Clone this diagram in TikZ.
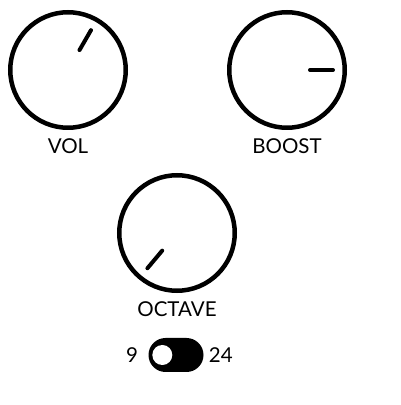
\documentclass[tikz,border=0pt]{standalone}
\usepackage{fontspec}
\setmainfont{Lato}
\usetikzlibrary{positioning,calc}
\def\knob#1#2#3#4{
	\node[knob] (#1) at (#2) {};
	\draw[pointer] ($(#1)+(#3:23)$) -- ($(#1)+(#3:46)$);
	\node[knoblabel,below=8pt of #1] (#1label) {#4};
}

\begin{document}
\begin{tikzpicture}[x=1pt,y=1pt,
	knob/.style={circle,draw,line width=4.5pt,minimum size=115.5pt,inner sep=0pt},
	pointer/.style={line width=4pt,line cap=round},
	knoblabel/.style={font=\fontsize{20.5}{24}\selectfont,inner sep=0pt},
	toggle/.style={rectangle,fill,minimum width=55pt,minimum height=34pt,rounded corners=17pt,inner sep=0pt},
	dot/.style={circle,fill=white,minimum size=20pt,inner sep=0pt}]
\useasboundingbox (0,0) rectangle (400,405);
\knob{vol}{68,335}{60}{VOL}
\knob{boost}{287,335}{0}{BOOST}
\knob{octave}{177,172}{230}{OCTAVE}
\node[toggle] (octswitch) at (176,50) {};
\node[dot] (octdot) at ($(octswitch.west)+(14,0)$) {};
\node[knoblabel,left=10pt of octswitch] (low) {9};
\node[knoblabel,right=5pt of octswitch] (high) {24};
\end{tikzpicture}
\end{document}
